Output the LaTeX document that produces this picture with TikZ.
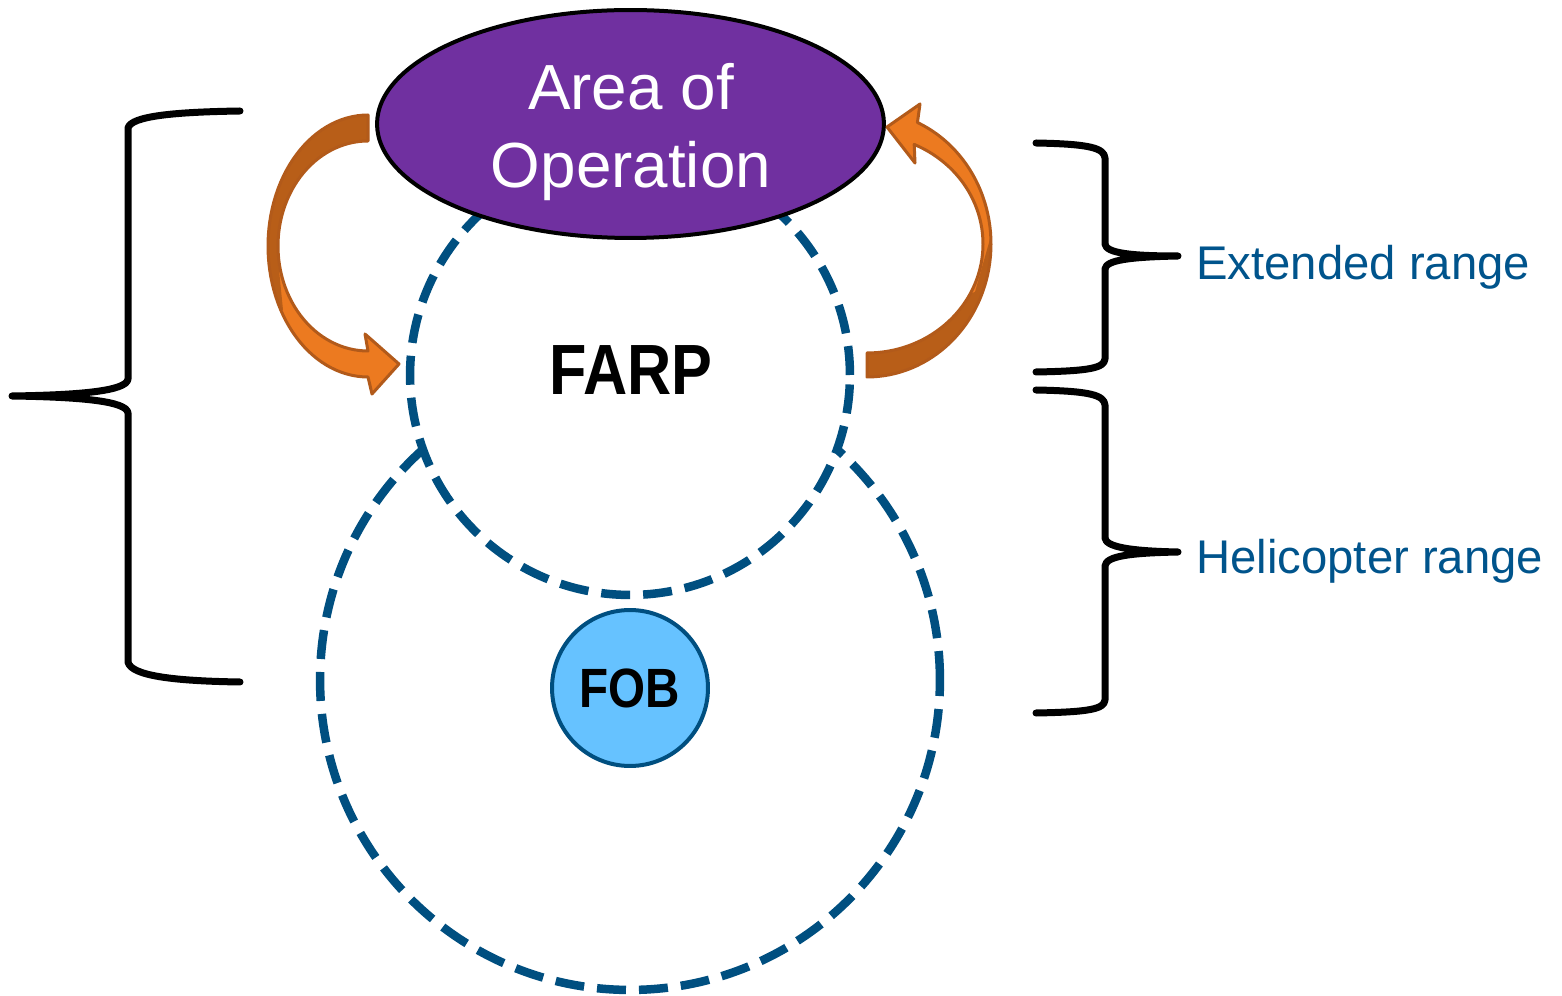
\documentclass[tikz,border=0pt]{standalone}
\usepackage{fontspec}
\setmainfont{Liberation Sans}
\usepackage{graphicx}
\usetikzlibrary{shapes.geometric}
\definecolor{aoopurple}{HTML}{7030A0}
\definecolor{rangeblue}{RGB}{0,79,128}
\definecolor{labelblue}{RGB}{0,84,140}
\definecolor{fobblue}{RGB}{102,194,255}
\definecolor{arrowlight}{RGB}{236,122,32}
\definecolor{arrowdark}{RGB}{184,94,24}
\definecolor{arrowline}{RGB}{178,90,26}
\newcommand\myLarrow{plot[domain=270:90,samples=60] ({368+100*cos(\x)},{246+131*sin(\x)}) -- (372,394) -- (399,364) -- (365,334) -- (368,351) -- plot[domain=90:270,samples=60] ({368+90*cos(\x)},{246+105*sin(\x)}) -- cycle}
\newcommand\myRarrow{plot[domain=90:-66,samples=60] ({867+124*cos(\x)},{244+133*sin(\x)}) -- (920,104) -- (887,127) -- (915,163) -- plot[domain=-66:90,samples=60] ({867+116*cos(\x)},{244+109*sin(\x)}) -- cycle}
\begin{document}
\begin{tikzpicture}[x=0.02cm,y=-0.02cm,
  rangecircle/.style={circle, draw=rangeblue, line width=0.17cm, dash pattern=on 0.58cm off 0.26cm, inner sep=0pt},
  bracepath/.style={draw=black, line width=0.14cm, line cap=round, line join=round},
  arrowfill/.style={fill=arrowlight},
  arrowshade/.style={fill=arrowdark},
  arrowedge/.style={draw=arrowline, line width=0.06cm, line join=round},
  rangelabel/.style={anchor=base west, text=labelblue, font=\fontsize{26.9}{32}\selectfont, inner sep=0pt}]
\path[use as bounding box, fill=white] (0,0) rectangle (1562,996);
% range circles
\node[rangecircle, minimum size=12.4cm] (heli) at (630,680) {};
\node[rangecircle, fill=white, minimum size=8.8cm] (farp) at (630,375) {};
% area of operation
\node[ellipse, draw=black, line width=0.08cm, fill=aoopurple, minimum width=10.14cm, minimum height=4.56cm, inner sep=0pt] (aoo) at (630.5,124) {};
\node[text=white, font=\fontsize{36.3}{44.6}\selectfont, align=center, inner sep=0pt] (aootext) at (631,132) {Area of\\Operation};
% labels
\node[anchor=base, font=\fontsize{40.5}{48}\selectfont\bfseries, inner sep=0pt] (farplabel) at (631,395) {\scalebox{0.86}[1]{FARP}};
\node[circle, fill=fobblue, draw=rangeblue, line width=0.08cm, minimum size=3.12cm, inner sep=0pt, font=\fontsize{31.5}{36}\selectfont\bfseries] (fob) at (630,688) {\scalebox{0.86}[1]{FOB}};
% curved arrows
\path[arrowfill] \myLarrow;
\begin{scope}
\clip (240,90) -- (430,90) -- (430,200) -- (277,250) -- (283,310) -- (240,310) -- cycle;
\path[arrowshade] \myLarrow;
\end{scope}
\path[arrowedge] \myLarrow;
\path[arrowfill] \myRarrow;
\begin{scope}
\clip (1030,232) -- (992,232) -- (975,292) -- (850,330) -- (850,400) -- (1030,400) -- cycle;
\path[arrowshade] \myRarrow;
\end{scope}
\path[arrowedge] \myRarrow;
% braces
\draw[bracepath] (240,111) .. controls (175,112) and (131,116) .. (128,128) -- (128,379) .. controls (127,391) and (80,395) .. (12,396) .. controls (80,397) and (127,401) .. (128,413) -- (128,662) .. controls (131,676) and (175,681) .. (240,682);
\draw[bracepath] (1036,143) .. controls (1090,144) and (1104,148) .. (1105,158) -- (1105,244) .. controls (1106,253) and (1130,256) .. (1178,256) .. controls (1130,257) and (1106,260) .. (1105,269) -- (1105,359) .. controls (1104,368) and (1090,371) .. (1036,372);
\draw[bracepath] (1036,390) .. controls (1090,391) and (1104,395) .. (1105,405) -- (1105,538) .. controls (1106,547) and (1130,551) .. (1178,552) .. controls (1130,553) and (1106,556) .. (1105,566) -- (1105,700) .. controls (1104,709) and (1090,712) .. (1036,713);
\node[rangelabel] (extlabel) at (1196,280) {Extended range};
\node[rangelabel] (helilabel) at (1196,574) {Helicopter range};
\end{tikzpicture}
\end{document}
